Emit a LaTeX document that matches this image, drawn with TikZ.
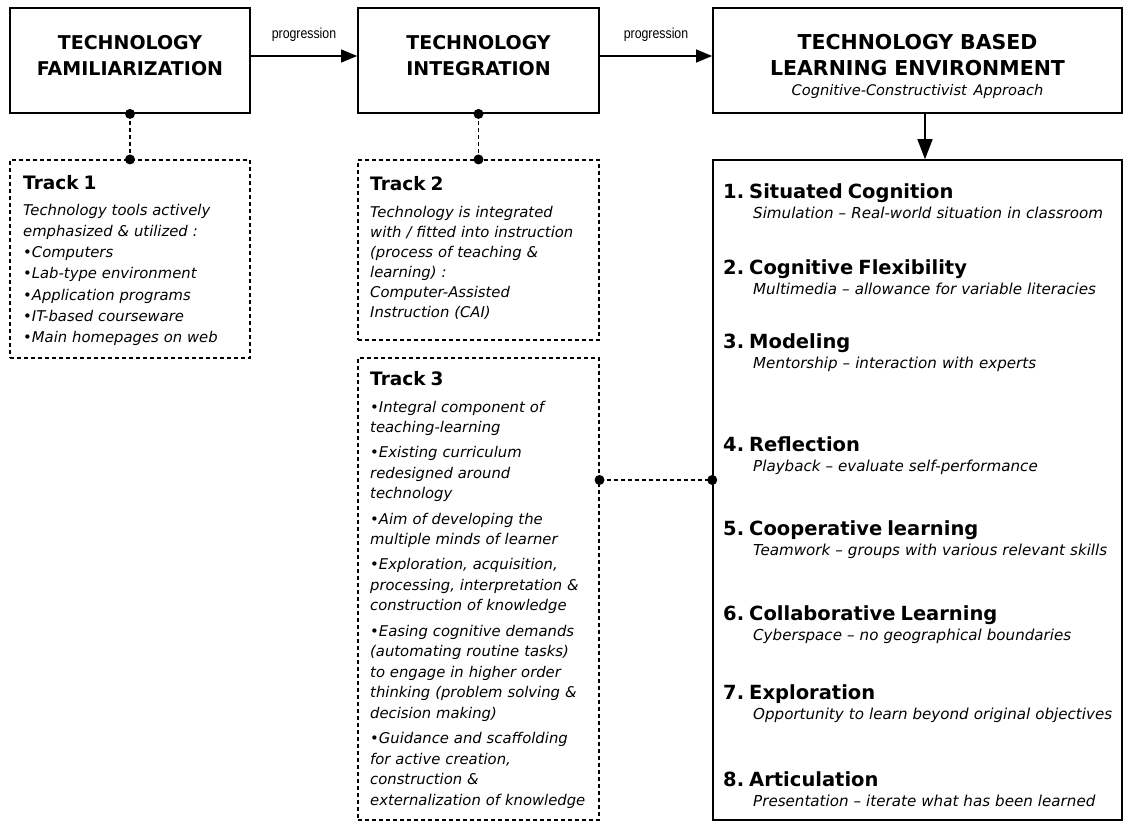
\documentclass[tikz,border=0pt]{standalone}
\usepackage{fontspec}
\setmainfont{DejaVu Sans}
\newfontfamily\labelfont[FakeStretch=0.85]{Liberation Sans}
\usetikzlibrary{arrows.meta}

\tikzset{
	stage/.style={draw, line width=1.8pt, inner sep=0pt, align=center, minimum height=105pt, text height=14pt, text depth=35pt, font=\fontsize{19}{26}\selectfont\bfseries},
	track/.style={draw, dash pattern=on 4pt off 3pt, line width=1.1pt, inner sep=0pt},
	tracktext/.style={anchor=base west, inner sep=0pt, align=left, text width=228pt},
	link/.style={dash pattern=on 4pt off 3pt, line width=1.1pt},
	dot/.style={circle, fill, inner sep=0pt, minimum size=10pt},
	flow/.style={line width=1.3pt, -{Triangle[length=16pt, width=13pt]}},
	phase/.style={anchor=base west, inner sep=0pt, align=left, text width=440pt, font=\fontsize{15.1}{20.3}\selectfont},
	progress/.style={inner sep=0pt, above=14pt, font=\labelfont\fontsize{14.5}{16}\selectfont}
}

\begin{document}
\begin{tikzpicture}[x=1pt, y=-1pt]
	\useasboundingbox (0,0) rectangle (1124,824);

	\node[stage, minimum width=240pt, text width=236pt] (fam) at (130,60.5) {TECHNOLOGY\\FAMILIARIZATION};
	\node[stage, minimum width=241pt, text width=237pt] (integ) at (478.5,60.5) {TECHNOLOGY\\INTEGRATION};
	\node[stage, minimum width=409pt, text width=400pt, text height=15pt, text depth=36pt, font=\fontsize{20.5}{26}\selectfont\bfseries] (env) at (917.5,60.5)
		{TECHNOLOGY BASED\\LEARNING ENVIRONMENT\\[-6pt]{\fontsize{14.6}{20}\selectfont\mdseries\itshape Cognitive-Constructivist Approach}};

	\draw[flow] ([yshift=4.5pt]fam.east) -- ([yshift=4.5pt]integ.west) node[midway, progress] (prog1) {progression};
	\draw[flow] ([yshift=4.5pt]integ.east) -- ([yshift=4.5pt]env.west) node[midway, progress] (prog2) {progression};

	\node[track, minimum width=240pt, minimum height=198pt] (track1) at (130,259) {};
	\node[track, minimum width=241pt, minimum height=180pt] (track2) at (478.5,250) {};
	\node[track, minimum width=241pt, minimum height=462pt] (track3) at (478.5,589) {};
	\node[draw, line width=1.5pt, inner sep=0pt, minimum width=409pt, minimum height=660pt] (phases) at (917.5,490) {};

	\draw[flow, -{Triangle[length=20pt, width=15pt]}] ([xshift=7.5pt]env.south) -- ([xshift=7.5pt]phases.north);

	\draw[link] (fam.south) node[dot] {} -- (track1.north) node[dot] {};
	\draw[link] (integ.south) node[dot] {} -- (track2.north) node[dot] {};
	\coordinate (tie) at (0,480);
	\draw[link] (track3.east |- tie) node[dot] {} -- (phases.west |- tie) node[dot] {};

	\node[tracktext, font=\fontsize{14.8}{21.3}\selectfont\itshape] (track1txt) at (23,189)
		{{\fontsize{18.5}{20}\selectfont\bfseries\upshape Track 1}\\[4.7pt]
		Technology tools actively\\
		emphasized \& utilized :\\
		•Computers\\
		•Lab-type environment\\
		•Application programs\\
		•IT-based courseware\\
		•Main homepages on web};

	\node[tracktext, font=\fontsize{14.8}{20}\selectfont\itshape] (track2txt) at (370,190)
		{{\fontsize{18.5}{20}\selectfont\bfseries\upshape Track 2}\\[7pt]
		Technology is integrated\\
		with / fitted into instruction\\
		(process of teaching \&\\
		learning) :\\
		Computer-Assisted\\
		Instruction (CAI)};

	\node[tracktext, font=\fontsize{14.8}{20.5}\selectfont\itshape] (track3txt) at (370,385)
		{{\fontsize{18.5}{20}\selectfont\bfseries\upshape Track 3}\\[6.5pt]
		•Integral component of\\
		teaching-learning\\[4.8pt]
		•Existing curriculum\\
		redesigned around\\
		technology\\[4.8pt]
		•Aim of developing the\\
		multiple minds of learner\\[4.8pt]
		•Exploration, acquisition,\\
		processing, interpretation \&\\
		construction of knowledge\\[4.8pt]
		•Easing cognitive demands\\
		(automating routine tasks)\\
		to engage in higher order\\
		thinking (problem solving \&\\
		decision making)\\[4.8pt]
		•Guidance and scaffolding\\
		for active creation,\\
		construction \&\\
		externalization of knowledge};

	\foreach \y/\num/\head/\sub in {
		198.5/1/Situated Cognition/Simulation – Real-world situation in classroom,
		274.5/2/Cognitive Flexibility/Multimedia – allowance for variable literacies,
		348/3/Modeling/Mentorship – interaction with experts,
		451.5/4/Reflection/Playback – evaluate self-performance,
		535/5/Cooperative learning/Teamwork – groups with various relevant skills,
		620/6/Collaborative Learning/Cyberspace – no geographical boundaries,
		699.5/7/Exploration/Opportunity to learn beyond original objectives,
		786.5/8/Articulation/Presentation – iterate what has been learned}
		\node[phase] (phase\num) at (723,\y)
			{{\fontsize{19.5}{20.3}\selectfont\bfseries \num.~\head}\\\hspace*{30pt}\mbox{\itshape\sub}};
\end{tikzpicture}
\end{document}
